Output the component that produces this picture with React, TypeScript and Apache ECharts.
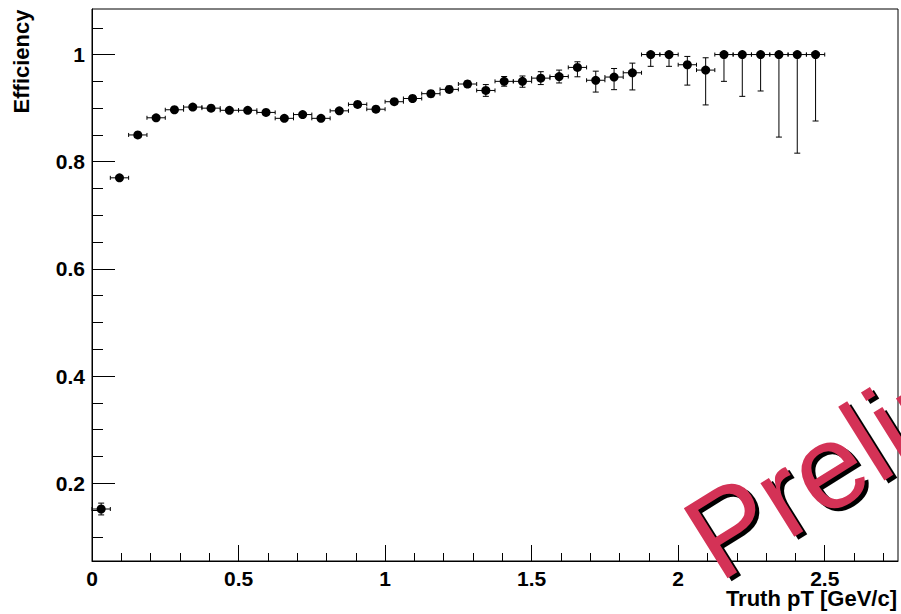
import React, { useEffect, useRef } from 'react';
import * as echarts from 'echarts';

const binCenters = [
  0.03125, 0.09375, 0.15625, 0.21875, 0.28125, 0.34375, 0.40625, 0.46875,
  0.53125, 0.59375, 0.65625, 0.71875, 0.78125, 0.84375, 0.90625, 0.96875,
  1.03125, 1.09375, 1.15625, 1.21875, 1.28125, 1.34375, 1.40625, 1.46875,
  1.53125, 1.59375, 1.65625, 1.71875, 1.78125, 1.84375, 1.90625, 1.96875,
  2.03125, 2.09375, 2.15625, 2.21875, 2.28125, 2.34375, 2.40625, 2.46875,
];

const efficiency = [
  0.152, 0.770, 0.850, 0.882, 0.897, 0.902, 0.900, 0.896,
  0.896, 0.892, 0.881, 0.888, 0.881, 0.895, 0.907, 0.898,
  0.912, 0.918, 0.927, 0.935, 0.945, 0.933, 0.950, 0.950,
  0.956, 0.959, 0.976, 0.952, 0.958, 0.966, 1.0, 1.0,
  0.981, 0.971, 1.0, 1.0, 1.0, 1.0, 1.0, 1.0,
];

const errLow = [
  0.011, 0.004, 0.003, 0.003, 0.003, 0.003, 0.003, 0.003,
  0.003, 0.003, 0.004, 0.004, 0.004, 0.004, 0.005, 0.005,
  0.005, 0.005, 0.006, 0.006, 0.006, 0.011, 0.009, 0.011,
  0.012, 0.012, 0.0175, 0.022, 0.0235, 0.032, 0.022, 0.022,
  0.038, 0.065, 0.050, 0.078, 0.068, 0.154, 0.184, 0.124,
];

const errHigh = [
  0.011, 0.004, 0.003, 0.003, 0.003, 0.003, 0.003, 0.003,
  0.003, 0.003, 0.004, 0.004, 0.004, 0.004, 0.005, 0.005,
  0.005, 0.005, 0.006, 0.006, 0.006, 0.011, 0.009, 0.010,
  0.012, 0.012, 0.0105, 0.017, 0.016, 0.018, 0, 0,
  0.0155, 0.023, 0, 0, 0, 0, 0, 0,
];

const binHalfWidth = 0.03125;

const xMajorTicks = [0, 0.5, 1, 1.5, 2, 2.5];
const xMinorTicks = [
  0.1, 0.2, 0.3, 0.4, 0.6, 0.7, 0.8, 0.9, 1.1, 1.2, 1.3, 1.4,
  1.6, 1.7, 1.8, 1.9, 2.1, 2.2, 2.3, 2.4, 2.6, 2.7,
];
const yMajorTicks = [0.2, 0.4, 0.6, 0.8, 1];
const yMinorTicks = [
  0.1, 0.15, 0.25, 0.3, 0.35, 0.45, 0.5, 0.55, 0.65, 0.7, 0.75, 0.85, 0.9, 0.95, 1.05,
];

const X_MIN = 0;
const X_MAX = 2.75;
const Y_MIN = 0.055;
const Y_MAX = 1.085;

const FONT = 'Liberation Sans, Arial, Helvetica, sans-serif';

export default function App() {
  const ref = useRef<HTMLDivElement>(null);

  useEffect(() => {
    if (!ref.current) return;
    const chart = echarts.init(ref.current, undefined, { renderer: 'svg' });

    const labelStyle = {
      color: '#000',
      fontSize: 21,
      fontWeight: 'bold' as const,
      fontFamily: FONT,
    };

    const data = binCenters.map((x, i) => [x, efficiency[i], errLow[i], errHigh[i]]);

    const theta = (32 * Math.PI) / 180;

    const option: any = {
      animation: false,
      backgroundColor: '#fff',
      grid: {
        left: 92,
        right: 3,
        top: 9,
        bottom: 53,
        show: true,
        borderColor: '#000',
        borderWidth: 1,
        backgroundColor: 'transparent',
        containLabel: false,
      },
      xAxis: [
        {
          type: 'value',
          min: X_MIN,
          max: X_MAX,
          position: 'bottom',
          axisLine: { show: true, onZero: false, lineStyle: { color: '#000', width: 1 } },
          axisTick: {
            show: true,
            inside: true,
            length: 16,
            customValues: xMajorTicks,
            lineStyle: { color: '#000', width: 1 },
          },
          axisLabel: { ...labelStyle, margin: 7, customValues: xMajorTicks },
          splitLine: { show: false },
        },
        {
          type: 'value',
          min: X_MIN,
          max: X_MAX,
          position: 'bottom',
          axisLine: { show: false, onZero: false },
          axisTick: {
            show: true,
            inside: true,
            length: 8,
            customValues: xMinorTicks,
            lineStyle: { color: '#000', width: 1 },
          },
          axisLabel: { show: false },
          splitLine: { show: false },
        },
      ],
      yAxis: [
        {
          type: 'value',
          min: Y_MIN,
          max: Y_MAX,
          position: 'left',
          axisLine: { show: true, onZero: false, lineStyle: { color: '#000', width: 1 } },
          axisTick: {
            show: true,
            inside: true,
            length: 23,
            customValues: yMajorTicks,
            lineStyle: { color: '#000', width: 1 },
          },
          axisLabel: { ...labelStyle, margin: 7, customValues: yMajorTicks },
          splitLine: { show: false },
        },
        {
          type: 'value',
          min: Y_MIN,
          max: Y_MAX,
          position: 'left',
          axisLine: { show: false, onZero: false },
          axisTick: {
            show: true,
            inside: true,
            length: 11,
            customValues: yMinorTicks,
            lineStyle: { color: '#000', width: 1 },
          },
          axisLabel: { show: false },
          splitLine: { show: false },
        },
      ],
      series: [
        {
          type: 'custom',
          xAxisIndex: 0,
          yAxisIndex: 0,
          clip: false,
          encode: { x: 0, y: 1 },
          data,
          renderItem: (params: any, api: any) => {
            const x = api.value(0);
            const y = api.value(1);
            const lo = api.value(2);
            const hi = api.value(3);
            const c = api.coord([x, y]);
            const xl = api.coord([x - binHalfWidth, y])[0];
            const xr = api.coord([x + binHalfWidth, y])[0];
            const yl = api.coord([x, y - lo])[1];
            const yh = api.coord([x, y + hi])[1];
            const st = { stroke: '#000', lineWidth: 1 };
            const children: any[] = [
              { type: 'line', shape: { x1: xl, y1: c[1], x2: xr, y2: c[1] }, style: st },
              { type: 'line', shape: { x1: xl, y1: c[1] - 2, x2: xl, y2: c[1] + 2 }, style: st },
              { type: 'line', shape: { x1: xr, y1: c[1] - 2, x2: xr, y2: c[1] + 2 }, style: st },
              { type: 'line', shape: { x1: c[0], y1: yh, x2: c[0], y2: yl }, style: st },
            ];
            if (lo > 0) {
              children.push({
                type: 'line',
                shape: { x1: c[0] - 3, y1: yl, x2: c[0] + 3, y2: yl },
                style: st,
              });
            }
            if (hi > 0) {
              children.push({
                type: 'line',
                shape: { x1: c[0] - 3, y1: yh, x2: c[0] + 3, y2: yh },
                style: st,
              });
            }
            children.push({
              type: 'circle',
              shape: { cx: c[0], cy: c[1], r: 4.5 },
              style: { fill: '#000' },
            });
            return { type: 'group', children };
          },
        },
      ],
      graphic: [
        {
          type: 'text',
          x: 897,
          y: 598,
          style: {
            text: 'Truth pT [GeV/c]',
            fontSize: 22,
            fontWeight: 'bold',
            fontFamily: FONT,
            fill: '#000',
            textAlign: 'right',
            textVerticalAlign: 'middle',
            align: 'right',
            verticalAlign: 'middle',
          },
        },
        {
          type: 'text',
          x: 21.5,
          y: 9.5,
          rotation: Math.PI / 2,
          style: {
            text: 'Efficiency',
            fontSize: 22,
            fontWeight: 'bold',
            fontFamily: FONT,
            fill: '#000',
            textAlign: 'right',
            textVerticalAlign: 'middle',
            align: 'right',
            verticalAlign: 'middle',
          },
        },
        {
          type: 'text',
          x: 701,
          y: 551,
          rotation: theta,
          z: 100,
          style: {
            text: 'Preliminary',
            fontSize: 120,
            fontFamily: FONT,
            fill: '#000',
            textAlign: 'left',
            textVerticalAlign: 'middle',
            align: 'left',
            verticalAlign: 'middle',
          },
        },
        {
          type: 'text',
          x: 697,
          y: 548,
          rotation: theta,
          z: 101,
          style: {
            text: 'Preliminary',
            fontSize: 120,
            fontFamily: FONT,
            fill: '#d43256',
            textAlign: 'left',
            textVerticalAlign: 'middle',
            align: 'left',
            verticalAlign: 'middle',
          },
        },
      ],
    };

    chart.setOption(option);
    return () => {
      chart.dispose();
    };
  }, []);

  return (
    <div
      ref={ref}
      style={{ position: 'fixed', left: 0, top: 0, width: 901, height: 614, background: '#fff' }}
    />
  );
}
